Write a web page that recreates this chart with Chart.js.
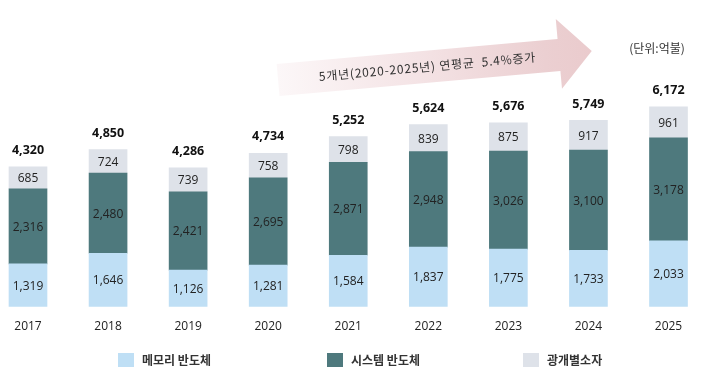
<!DOCTYPE html>
<html><head><meta charset="utf-8">
<script src="https://cdn.jsdelivr.net/npm/chart.js@4/dist/chart.umd.min.js"></script>
<style>html,body{margin:0;padding:0;background:#fff;}#wrap{width:708px;height:378px;}</style>
</head><body><div id="wrap"><canvas id="c" width="708" height="378"></canvas></div>
<script>
const years = ['2017','2018','2019','2020','2021','2022','2023','2024','2025'];
const memory = [1319,1646,1126,1281,1584,1837,1775,1733,2033];
const system = [2316,2480,2421,2695,2871,2948,3026,3100,3178];
const optical = [685,724,739,758,798,839,875,917,961];
const totals = [4320,4850,4286,4734,5252,5624,5676,5749,6172];
const seriesNames = ['메모리 반도체','시스템 반도체','광개별소자'];
const seriesColors = ['#bfdff5','#4e797d','#dee2e9'];
const unitLabel = '(단위:억불)';
const arrowText = '5개년(2020-2025년) 연평균  5.4%증가';

const fmt = v => v.toLocaleString('en-US');
const NUM_FONT = '"Open Sans", "Noto Sans", sans-serif';
const KR_FONT = '"Noto Sans CJK KR", "Noto Sans", sans-serif';

const decor = {
  id: 'decor',
  beforeDraw(chart) {
    const ctx = chart.ctx;
    ctx.save();
    const ox = 278, oy = 79, ang = Math.atan2(-28, 314);
    ctx.translate(ox, oy);
    ctx.rotate(ang);
    const shaftEnd = 282, tip = 315, hw = 16, hh = 35;
    const g = ctx.createLinearGradient(0, 0, tip, 0);
    g.addColorStop(0, '#fcf7f8');
    g.addColorStop(0.45, '#f4e3e5');
    g.addColorStop(0.85, '#ebcfd1');
    g.addColorStop(1, '#eacbcd');
    ctx.fillStyle = g;
    ctx.beginPath();
    ctx.moveTo(0, -hw + 1);
    ctx.lineTo(shaftEnd, -hw + 1);
    ctx.lineTo(shaftEnd, -hh);
    ctx.lineTo(tip, 0);
    ctx.lineTo(shaftEnd, hh);
    ctx.lineTo(shaftEnd, hw + 1);
    ctx.lineTo(0, hw + 1);
    ctx.closePath();
    ctx.fill();
    ctx.fillStyle = '#333';
    ctx.font = '12px ' + KR_FONT;
    ctx.textBaseline = 'middle';
    ctx.textAlign = 'left';
    const target = 217;
    const w0 = ctx.measureText(arrowText).width;
    const n = [...arrowText].length;
    const ls = Math.max(0, (target - w0) / (n - 1));
    ctx.letterSpacing = ls.toFixed(2) + 'px';
    ctx.fillText(arrowText, 41, 1);
    ctx.restore();

    ctx.save();
    ctx.fillStyle = '#333';
    ctx.font = '12px ' + KR_FONT;
    ctx.textAlign = 'center';
    ctx.textBaseline = 'middle';
    ctx.fillText(unitLabel, 657, 48);
    ctx.restore();
  },
  afterDatasetsDraw(chart) {
    const ctx = chart.ctx;
    ctx.save();
    ctx.textAlign = 'center';
    ctx.textBaseline = 'middle';
    ctx.font = '12px ' + NUM_FONT;
    ctx.fillStyle = '#222';
    chart.data.datasets.forEach((ds, i) => {
      const meta = chart.getDatasetMeta(i);
      meta.data.forEach((bar, j) => {
        const p = bar.getProps(['x', 'y', 'base'], true);
        ctx.fillText(fmt(ds.data[j]), p.x, (p.y + p.base) / 2 + 1);
      });
    });
    ctx.font = 'bold 12.5px ' + NUM_FONT;
    ctx.fillStyle = '#111';
    const top = chart.getDatasetMeta(chart.data.datasets.length - 1);
    top.data.forEach((bar, j) => {
      ctx.fillText(fmt(totals[j]), bar.x, bar.y - 16.5);
    });
    const lx = [118, 327, 523];
    ctx.textAlign = 'left';
    ctx.font = 'bold 12px ' + KR_FONT;
    chart.data.datasets.forEach((ds, i) => {
      ctx.fillStyle = ds.backgroundColor;
      ctx.fillRect(lx[i], 353, 16, 14);
      ctx.fillStyle = '#333';
      ctx.fillText(ds.label, lx[i] + 24, 360);
    });
    ctx.restore();
  }
};

new Chart(document.getElementById('c'), {
  type: 'bar',
  data: {
    labels: years,
    datasets: [
      { label: seriesNames[0], data: memory, backgroundColor: seriesColors[0] },
      { label: seriesNames[1], data: system, backgroundColor: seriesColors[1] },
      { label: seriesNames[2], data: optical, backgroundColor: seriesColors[2] }
    ]
  },
  options: {
    responsive: false,
    animation: false,
    devicePixelRatio: 1,
    layout: { padding: { left: 28, right: 39.5, top: 80, bottom: 0 } },
    datasets: { bar: { barThickness: 38, clip: false, borderWidth: 0 } },
    plugins: { legend: { display: false }, tooltip: { enabled: false } },
    scales: {
      x: {
        stacked: true,
        offset: false,
        grid: { display: false, drawTicks: false },
        border: { display: false },
        ticks: { color: '#222', font: { family: NUM_FONT, size: 12 }, padding: 13 },
        afterFit: s => { s.height = 71.5; }
      },
      y: {
        stacked: true,
        display: false,
        min: 0,
        max: 7000
      }
    }
  },
  plugins: [decor]
});
</script>
</body></html>
